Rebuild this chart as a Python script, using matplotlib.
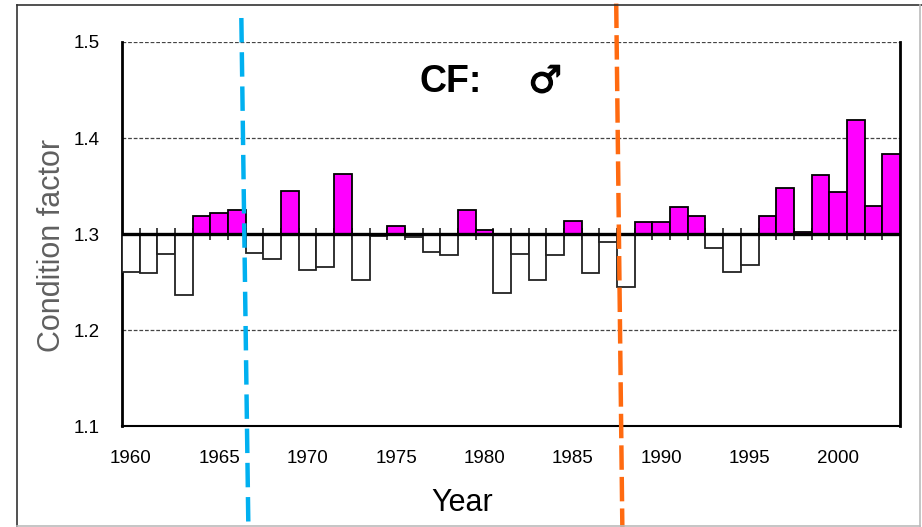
import numpy as np
import matplotlib
matplotlib.use('Agg')
import matplotlib.pyplot as plt
import matplotlib.patheffects as pe
from matplotlib.lines import Line2D

# condition factor of males, by year
years = list(range(1960, 2004))
cf = [1.260, 1.259, 1.279, 1.236, 1.319, 1.322, 1.325, 1.280, 1.274, 1.345,
      1.262, 1.266, 1.363, 1.252, 1.298, 1.308, 1.297, 1.281, 1.278, 1.325,
      1.304, 1.239, 1.279, 1.252, 1.278, 1.314, 1.259, 1.292, 1.245, 1.312,
      1.312, 1.328, 1.319, 1.285, 1.260, 1.268, 1.319, 1.348, 1.302, 1.361,
      1.344, 1.419, 1.329, 1.383]
baseline = 1.3
yTicks = [1.1, 1.2, 1.3, 1.4, 1.5]
xTicks = [1960, 1965, 1970, 1975, 1980, 1985, 1990, 1995, 2000]
# regime shift markers (year at top, year at bottom of dashed line)
blueShift = [1966.25, 1966.65]
orangeShift = [1987.45, 1987.8]

cPos = '#FF00FF'
cBlue = '#00B0F0'
cOrange = '#FF6A10'

plt.rcParams['font.family'] = ['Liberation Sans', 'DejaVu Sans']

fig = plt.figure(figsize=(9.22, 5.27), dpi=100)
ax = fig.add_axes([122/922, 1-426/527, 778/922, 384/527])
ax.set_xlim(1959.5, 2003.5)
ax.set_ylim(1.1, 1.5)

#--gridlines
for y in yTicks[1:]:
    ax.axhline(y, color='#444444', lw=0.9, ls=(0, (3, 1.5)), zorder=1)

#--bars from baseline
yrs = np.array(years)
vals = np.array(cf) - baseline
pos = vals >= 0
ax.bar(yrs[pos], vals[pos], width=1.0, bottom=baseline, color=cPos,
       edgecolor='black', lw=1.3, zorder=3)
ax.bar(yrs[~pos], vals[~pos], width=1.0, bottom=baseline, color='white',
       edgecolor='#222222', lw=1.3, zorder=3)

#--baseline axis with crossing ticks
ax.axhline(baseline, color='black', lw=2.4, zorder=4)
ax.vlines(yrs[1:] - 0.5, baseline - 0.006, baseline + 0.006, color='#222222',
          lw=1.2, zorder=2)

#--spines
ax.spines['top'].set_visible(False)
for s in ['left', 'right']:
    ax.spines[s].set_linewidth(2.0)
ax.spines['bottom'].set_linewidth(1.5)

ax.set_yticks(yTicks)
ax.set_yticklabels(['%.1f' % y for y in yTicks])
ax.set_xticks(xTicks)
ax.set_xticklabels([str(x) for x in xTicks])
ax.tick_params(axis='y', length=0, pad=16, labelsize=13.5)
ax.tick_params(axis='x', length=0, pad=17, labelsize=13.5)

ax.set_ylabel('Condition factor', fontsize=22, color='#606060', va='center')
ax.yaxis.set_label_coords((52-122)/778, (426-245)/384)
ax.set_xlabel('Year', fontsize=22, va='center')
ax.xaxis.set_label_coords((462-122)/778, (426-503)/384)

#--title
ax.text(0.423, 0.895, 'CF:', transform=ax.transAxes, ha='center', va='center',
        fontsize=27, fontweight='bold')
ax.text(0.544, 0.895, '\u2642', transform=ax.transAxes, ha='center', va='center',
        fontsize=27, family='DejaVu Sans',
        path_effects=[pe.withStroke(linewidth=0.9, foreground='black')])

#--regime shift lines
ax.add_line(Line2D(blueShift, [1.525, 0.99], color=cBlue, lw=3.2,
                   dashes=(5.5, 2.2), clip_on=False, zorder=5))
ax.add_line(Line2D(orangeShift, [1.54, 0.99], color=cOrange, lw=3.2,
                   dashes=(5.5, 1.6), clip_on=False, zorder=5))

#--outer frame
fig.add_artist(Line2D([17/922, 17/922], [0, 1-5/527], color='#333333', lw=1.2))
fig.add_artist(Line2D([17/922, 1], [1-5/527, 1-5/527], color='#333333', lw=1.2))
fig.add_artist(Line2D([920/922, 920/922], [0, 1-5/527], color='#bbbbbb', lw=1.2))
fig.add_artist(Line2D([17/922, 920/922], [1.5/527, 1.5/527], color='#bbbbbb', lw=1.2))

plt.savefig('out.png', dpi=100)
